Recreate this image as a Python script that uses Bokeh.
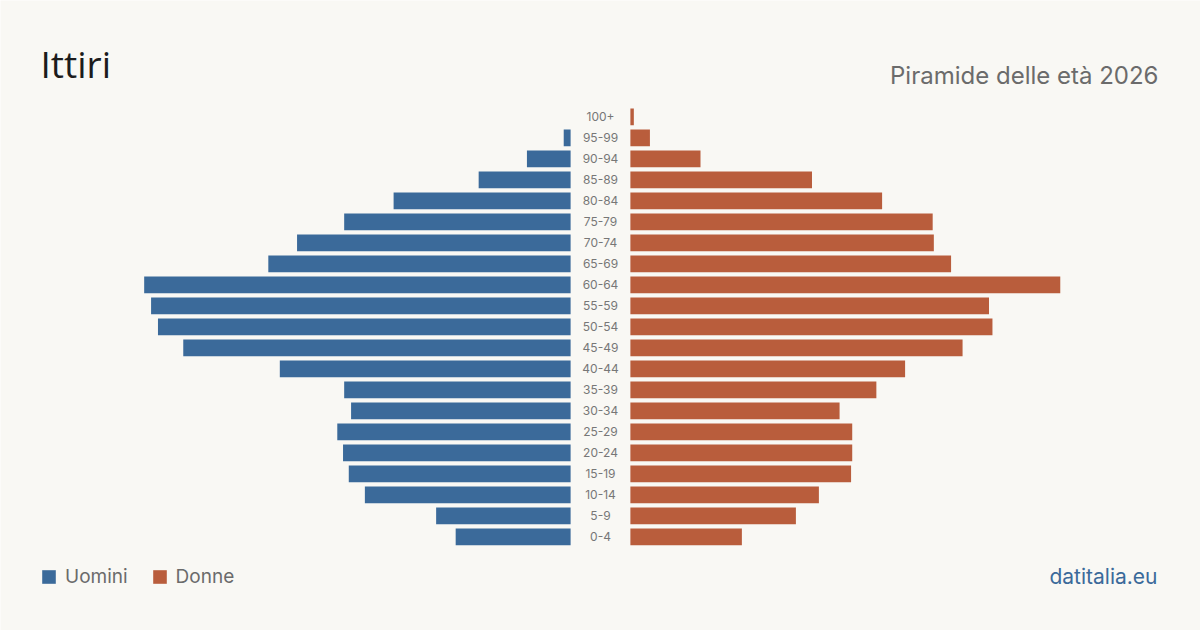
from bokeh.plotting import figure
from bokeh.models import ColumnDataSource, Label, Range1d, Legend, LegendItem
from bokeh.core.properties import value
from bokeh.embed import file_html
from bokeh.resources import INLINE

# Age classes, youngest first
age_groups = ["0-4", "5-9", "10-14", "15-19", "20-24", "25-29", "30-34", "35-39",
              "40-44", "45-49", "50-54", "55-59", "60-64", "65-69", "70-74", "75-79",
              "80-84", "85-89", "90-94", "95-99", "100+"]
men = [100, 117, 179, 193, 198, 203, 191, 197, 253, 337, 359, 365, 371, 263,
       238, 197, 154, 80, 38, 6, 0]
women = [97, 144, 164, 192, 193, 193, 182, 214, 239, 289, 315, 312, 374, 279,
         264, 263, 219, 158, 61, 17, 3]

title_text = "Ittiri"
subtitle_text = "Piramide delle età 2026"
source_text = "datitalia.eu"

BG = "#f9f8f4"
BLUE = "#3b6a9a"
ORANGE = "#b95d3c"
GAP = 26  # half-width of the central label column, in data units

idx = list(range(len(age_groups)))
src = ColumnDataSource(dict(
    y=idx,
    label=age_groups,
    m_left=[-GAP - v for v in men],
    m_right=[-GAP] * len(men),
    f_left=[GAP] * len(women),
    f_right=[GAP + v for v in women],
    zero=[0] * len(idx),
))

p = figure(width=1200, height=630, output_backend="svg", toolbar_location=None,
           x_range=Range1d(-522, 522), y_range=Range1d(-4.457, 25.543),
           min_border=0, outline_line_color=None,
           background_fill_color=BG, border_fill_color=BG)
p.axis.visible = False
p.xaxis.visible = False
p.yaxis.visible = False
p.grid.visible = False

r_m = p.hbar(y="y", left="m_left", right="m_right", height=0.8, source=src,
             fill_color=BLUE, line_color=None)
r_f = p.hbar(y="y", left="f_left", right="f_right", height=0.8, source=src,
             fill_color=ORANGE, line_color=None)

p.text(x="zero", y="y", text="label", source=src, text_align="center",
       text_baseline="middle", text_font=value("Inter"), text_font_size="12px",
       text_color="#777777")

p.add_layout(Label(x=40, y=567, x_units="screen", y_units="screen", text=title_text,
                   text_font="Open Sans", text_font_size="37px", text_color="#1c1c1c",
                   text_baseline="alphabetic"))
p.add_layout(Label(x=1158, y=555, x_units="screen", y_units="screen", text=subtitle_text,
                   text_font="Inter", text_font_size="24px", text_color="#6b6b6b",
                   text_align="right", text_baseline="alphabetic"))
p.add_layout(Label(x=1157, y=54, x_units="screen", y_units="screen", text=source_text,
                   text_font="Inter", text_font_size="21px", text_color=BLUE,
                   text_align="right", text_baseline="alphabetic"))

legend = Legend(items=[LegendItem(label="Uomini", renderers=[r_m]),
                       LegendItem(label="Donne", renderers=[r_f])],
                location=(40, 42), orientation="horizontal",
                glyph_width=17, glyph_height=17, label_height=17,
                label_standoff=8, spacing=23, padding=0, margin=0,
                border_line_color=None, background_fill_alpha=0,
                label_text_font="Inter", label_text_font_size="19px",
                label_text_color="#6b6b6b")
p.add_layout(legend)

open("out.html", "w").write(file_html(p, INLINE))
